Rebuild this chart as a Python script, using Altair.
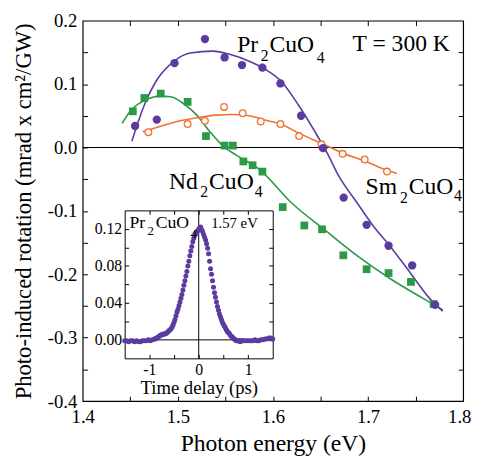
import altair as alt
import pandas as pd

FONT = "Liberation Serif"
PURPLE = "#5b3b9f"
GREEN = "#2a9a46"
ORANGE = "#f27330"

# ---------------- main panel data (photon energy eV, rotation) ----------------
pr_e = [1.4551, 1.4779, 1.4965, 1.5285, 1.5492, 1.5675, 1.5889, 1.6079, 1.6296,
        1.6526, 1.6744, 1.6985, 1.7216, 1.7464, 1.7705]
pr_r = [0.034, 0.044, 0.133, 0.171, 0.142, 0.130, 0.126, 0.101, 0.050,
        -0.001, -0.079, -0.122, -0.155, -0.186, -0.248]

nd_e = [1.4527, 1.4648, 1.4820, 1.5103, 1.5296, 1.5492, 1.5579, 1.5689, 1.5786,
        1.5889, 1.6103, 1.6330, 1.6516, 1.6740, 1.6985, 1.7216, 1.7451, 1.7689]
nd_r = [0.057, 0.078, 0.085, 0.072, 0.018, 0.003, 0.003, -0.022, -0.028,
        -0.038, -0.094, -0.123, -0.129, -0.170, -0.192, -0.198, -0.212, -0.247]

sm_e = [1.4690, 1.5103, 1.5285, 1.5486, 1.5682, 1.5872, 1.6079, 1.6275, 1.6510,
        1.6733, 1.6965, 1.7199]
sm_r = [0.024, 0.037, 0.042, 0.064, 0.054, 0.041, 0.037, 0.018, 0.005,
        -0.010, -0.019, -0.038]

# fitted curves
pr_fit_e = [1.4517, 1.4648, 1.4786, 1.4959, 1.5130, 1.5372, 1.5544, 1.5751, 1.5923,
            1.6096, 1.6268, 1.6441, 1.6578, 1.6681, 1.6888, 1.7061, 1.7234, 1.7441,
            1.7647, 1.7785]
pr_fit_r = [0.010, 0.067, 0.108, 0.136, 0.149, 0.152, 0.147, 0.136, 0.123,
            0.103, 0.067, 0.025, -0.011, -0.042, -0.088, -0.125, -0.156, -0.197,
            -0.238, -0.258]

nd_fit_e = [1.4414, 1.4510, 1.4648, 1.4820, 1.4923, 1.5062, 1.5200, 1.5337, 1.5476,
            1.5613, 1.5854, 1.6200, 1.6544, 1.6888, 1.7234, 1.7578, 1.7785]
nd_fit_r = [0.038, 0.059, 0.074, 0.081, 0.080, 0.069, 0.051, 0.025, 0.002,
            -0.012, -0.034, -0.088, -0.130, -0.171, -0.207, -0.238, -0.256]

sm_fit_e = [1.4631, 1.4786, 1.4993, 1.5200, 1.5406, 1.5579, 1.5751, 1.5923, 1.6096,
            1.6268, 1.6441, 1.6578, 1.6717, 1.6958, 1.7164, 1.7302]
sm_fit_r = [0.025, 0.032, 0.041, 0.047, 0.051, 0.052, 0.050, 0.043, 0.036,
            0.023, 0.011, 0.002, -0.008, -0.021, -0.034, -0.041]

# text labels (fragments with subscripts)
lab_text = ["Pr", "2", "CuO", "4", "T = 300 K",
            "Nd", "2", "CuO", "4",
            "Sm", "2", "CuO", "4"]
lab_e = [1.5624, 1.5872, 1.5965, 1.6461, 1.6837,
         1.4907, 1.5236, 1.5329, 1.5810,
         1.6974, 1.7336, 1.7428, 1.7904]
lab_r = [0.151, 0.137, 0.151, 0.134, 0.152,
         -0.065, -0.078, -0.065, -0.078,
         -0.073, -0.088, -0.073, -0.085]
lab_fs = [24, 16, 24, 16, 24,
          24, 16, 24, 16,
          24, 16, 24, 16]

# ---------------- inset data (time delay ps, signal) ----------------
in_t = [-1.50, -1.46, -1.42, -1.38, -1.34, -1.30, -1.26, -1.22, -1.18, -1.14, -1.10, -1.06,
        -1.02, -0.98, -0.94, -0.90,
        -0.88, -0.86, -0.84, -0.82, -0.80, -0.78, -0.76, -0.74, -0.72, -0.70, -0.68, -0.66,
        -0.64, -0.62, -0.60, -0.58, -0.56, -0.54, -0.52, -0.50, -0.48, -0.46, -0.44, -0.42,
        -0.40, -0.38, -0.36, -0.34, -0.32, -0.30, -0.28, -0.26, -0.24, -0.22, -0.20, -0.18,
        -0.16, -0.14, -0.12, -0.10, -0.08, -0.06, -0.04, -0.02,
        0.00, 0.02, 0.04, 0.06, 0.08, 0.10, 0.12, 0.14, 0.16, 0.18, 0.20, 0.22,
        0.24, 0.26, 0.28, 0.30, 0.32, 0.34, 0.36, 0.38, 0.40, 0.42, 0.44, 0.46,
        0.48, 0.50, 0.52, 0.54, 0.56, 0.58, 0.60, 0.62, 0.64, 0.66, 0.68, 0.70,
        0.72, 0.74, 0.76, 0.78, 0.80, 0.82, 0.84, 0.86, 0.88, 0.90,
        0.94, 0.98, 1.02, 1.06, 1.10, 1.14, 1.18, 1.22, 1.26, 1.30, 1.34, 1.38,
        1.42, 1.46, 1.50]
in_v = [-0.001, -0.001, -0.002, -0.001, -0.001, -0.002, -0.001, -0.002, -0.002, -0.001, -0.001, -0.001,
        0.000, -0.001, 0.000, 0.001,
        0.001, 0.002, 0.002, 0.003, 0.004, 0.005, 0.005, 0.006, 0.006, 0.006, 0.007, 0.007,
        0.008, 0.009, 0.010, 0.011, 0.012, 0.014, 0.016, 0.019, 0.022, 0.026, 0.030, 0.033,
        0.037, 0.041, 0.045, 0.049, 0.054, 0.059, 0.064, 0.069, 0.074, 0.080, 0.085, 0.091,
        0.096, 0.101, 0.106, 0.110, 0.113, 0.115, 0.117, 0.118,
        0.120, 0.121, 0.122, 0.119, 0.117, 0.114, 0.111, 0.108, 0.104, 0.099, 0.093, 0.085,
        0.077, 0.071, 0.064, 0.057, 0.051, 0.046, 0.041, 0.036, 0.032, 0.028, 0.025, 0.022,
        0.019, 0.017, 0.015, 0.013, 0.011, 0.009, 0.008, 0.007, 0.005, 0.004, 0.003, 0.002,
        0.001, 0.000, -0.001, -0.001, -0.001, -0.001, -0.002, -0.001, -0.001, -0.001,
        -0.001, -0.001, -0.001, -0.001, -0.001, 0.000, -0.001, -0.001, 0.000, 0.000, 0.001, 0.001,
        0.002, 0.002, 0.001]

in_lab_text = ["Pr", "2", "CuO", "4", "1.57 eV"]
in_lab_t = [-1.404, -1.040, -0.871, -0.165, 0.252]
in_lab_v = [0.1213, 0.1138, 0.1213, 0.1106, 0.1213]
in_lab_fs = [18, 13, 18, 13, 15]

# ---------------- layout ----------------
W = 387
H = 387
IN_X0, IN_X1 = 42.7, 193.3     # inset frame inside plot area (px)
IN_Y0, IN_Y1 = 343.5, 193.0

xs = alt.Scale(domain=[1.4, 1.8], nice=False, zero=False)
ys = alt.Scale(domain=[-0.4, 0.2], nice=False, zero=False)
xs_in = alt.Scale(domain=[-1.5, 1.5], range=[IN_X0, IN_X1], nice=False, zero=False)
ys_in = alt.Scale(domain=[-0.02, 0.14], range=[IN_Y0, IN_Y1], nice=False, zero=False)

MINUS = "replace(datum.label, '\u2212', '-')"

xa = alt.Axis(orient="bottom", values=[1.4, 1.5, 1.6, 1.7, 1.8], format=".1f",
              ticks=False, tickSize=0, domain=False, labelPadding=7, labelFontSize=19,
              labelOffset={"condition": {"test": "datum.value > 1.79", "value": -4}, "value": 0},
              title="Photon energy (eV)", titleFontSize=24, titlePadding=5)
ya = alt.Axis(orient="left", values=[-0.4, -0.3, -0.2, -0.1, 0.0, 0.1, 0.2], format=".1f",
              labelExpr=MINUS, ticks=False, tickSize=0, domain=False, labelPadding=6,
              labelFontSize=19, title="Photo-induced rotation (mrad x cm\u00b2/GW)",
              titleFontSize=23, titlePadding=12)


def X():
    return alt.X("e:Q", scale=xs, axis=xa)


def Y():
    return alt.Y("r:Q", scale=ys, axis=ya)


pr_df = pd.DataFrame({"e": pr_e, "r": pr_r})
nd_df = pd.DataFrame({"e": nd_e, "r": nd_r})
sm_df = pd.DataFrame({"e": sm_e, "r": sm_r})
prf_df = pd.DataFrame({"e": pr_fit_e, "r": pr_fit_r})
ndf_df = pd.DataFrame({"e": nd_fit_e, "r": nd_fit_r})
smf_df = pd.DataFrame({"e": sm_fit_e, "r": sm_fit_r})
lab_df = pd.DataFrame({"e": lab_e, "r": lab_r, "t": lab_text, "fs": lab_fs})

zero = alt.Chart(pd.DataFrame({"r": [0.0]})).mark_rule(color="black", strokeWidth=1.2).encode(y=Y())
nd_line = alt.Chart(ndf_df).mark_line(color=GREEN, strokeWidth=1.6, interpolate="monotone").encode(x=X(), y=Y())
sm_line = alt.Chart(smf_df).mark_line(color=ORANGE, strokeWidth=1.6, interpolate="monotone").encode(x=X(), y=Y())
pr_line = alt.Chart(prf_df).mark_line(color=PURPLE, strokeWidth=1.6, interpolate="monotone").encode(x=X(), y=Y())
nd_pts = alt.Chart(nd_df).mark_square(size=62, color=GREEN, opacity=1).encode(x=X(), y=Y())
sm_pts = alt.Chart(sm_df).mark_point(shape="circle", size=46, fill="white", stroke=ORANGE,
                                     strokeWidth=1.3, opacity=1, fillOpacity=1, filled=True).encode(x=X(), y=Y())
pr_pts = alt.Chart(pr_df).mark_circle(size=72, color=PURPLE, opacity=1).encode(x=X(), y=Y())
labels = alt.Chart(lab_df).mark_text(align="left", baseline="alphabetic", font=FONT, color="black").encode(
    x=X(), y=Y(), text="t:N", size=alt.Size("fs:Q", scale=None, legend=None))

main = alt.layer(zero, nd_line, sm_line, pr_line, nd_pts, sm_pts, pr_pts, labels)

# inward ticks on the main frame
minor_x = [1.45, 1.5, 1.55, 1.6, 1.65, 1.7, 1.75]
minor_y = [-0.35, -0.3, -0.25, -0.2, -0.15, -0.1, -0.05, 0.0, 0.05, 0.1, 0.15]
dummy = pd.DataFrame({"e": [1.6], "r": [0.0]})


def tick_axis(orient, offset, values, size, domain=False):
    return alt.Axis(orient=orient, offset=offset, values=values, labels=False, domain=domain,
                    ticks=True, tickSize=size, title=None)


m1 = alt.Chart(dummy).mark_point(opacity=0).encode(
    x=alt.X("e:Q", scale=xs, axis=tick_axis("top", -H, minor_x, 5)),
    y=alt.Y("r:Q", scale=ys, axis=tick_axis("right", -W, minor_y, 5)))
m2 = alt.Chart(dummy).mark_point(opacity=0).encode(
    x=alt.X("e:Q", scale=xs, axis=tick_axis("bottom", -H, minor_x, 5)),
    y=alt.Y("r:Q", scale=ys, axis=tick_axis("left", -W, minor_y, 5)))

# ---------------- inset ----------------
xa_in = alt.Axis(orient="bottom", offset=-(H - IN_Y0), values=[-1, 0, 1], format="d", labelExpr=MINUS,
                 ticks=False, tickSize=0, domain=True, labelPadding=3, labelFontSize=16,
                 title="Time delay (ps)", titleFontSize=19, titlePadding=2)
ya_in = alt.Axis(orient="left", offset=-IN_X0, values=[0, 0.04, 0.08, 0.12], format=".2f",
                 ticks=False, tickSize=0, domain=True, labelPadding=3, labelFontSize=16, title=None)


def XI():
    return alt.X("t:Q", scale=xs_in, axis=xa_in)


def YI():
    return alt.Y("v:Q", scale=ys_in, axis=ya_in)


in_df = pd.DataFrame({"t": in_t, "v": in_v})
in_lab_df = pd.DataFrame({"t": in_lab_t, "v": in_lab_v, "s": in_lab_text, "fs": in_lab_fs})

in_h = alt.Chart(pd.DataFrame({"t": [-1.5], "t2": [1.5], "v": [0.0]})).mark_rule(color="black", strokeWidth=1).encode(
    x=XI(), x2="t2:Q", y=YI())
in_v_rule = alt.Chart(pd.DataFrame({"t": [0.0], "v": [-0.02], "v2": [0.14]})).mark_rule(color="black", strokeWidth=1).encode(
    x=XI(), y=YI(), y2="v2:Q")
in_pts = alt.Chart(in_df).mark_circle(size=26, color=PURPLE, opacity=1).encode(x=XI(), y=YI())
in_labels = alt.Chart(in_lab_df).mark_text(align="left", baseline="alphabetic", font=FONT, color="black").encode(
    x=XI(), y=YI(), text="s:N", size=alt.Size("fs:Q", scale=None, legend=None))

inset = alt.layer(in_h, in_v_rule, in_pts, in_labels)

in_dummy = pd.DataFrame({"t": [0.0], "v": [0.0]})
in_tx = [-1, -0.5, 0, 0.5, 1]
in_ty = [0, 0.02, 0.04, 0.06, 0.08, 0.10, 0.12]
im1 = alt.Chart(in_dummy).mark_point(opacity=0).encode(
    x=alt.X("t:Q", scale=xs_in, axis=tick_axis("top", -IN_Y0, in_tx, 4)),
    y=alt.Y("v:Q", scale=ys_in, axis=tick_axis("right", -(W - IN_X0), in_ty, 4)))
im2 = alt.Chart(in_dummy).mark_point(opacity=0).encode(
    x=alt.X("t:Q", scale=xs_in, axis=tick_axis("bottom", -(H - IN_Y1), in_tx, 4, domain=True)),
    y=alt.Y("v:Q", scale=ys_in, axis=tick_axis("left", -IN_X1, in_ty, 4, domain=True)))

chart = (
    alt.layer(main, m1, m2, inset, im1, im2)
    .resolve_scale(x="independent", y="independent")
    .properties(width=W, height=H, autosize=alt.AutoSizeParams(type="none"),
                padding={"left": 76, "top": 9, "right": 9, "bottom": 56})
    .configure_view(stroke="black", strokeWidth=1.2)
    .configure_axis(labelFont=FONT, titleFont=FONT, labelColor="black", titleColor="black",
                    tickColor="black", domainColor="black", titleFontWeight="normal",
                    grid=False, labelFlush=False, labelOverlap=False, tickWidth=1, domainWidth=1)
)

chart.save("out.html", embed_options={"renderer": "svg", "actions": False})
